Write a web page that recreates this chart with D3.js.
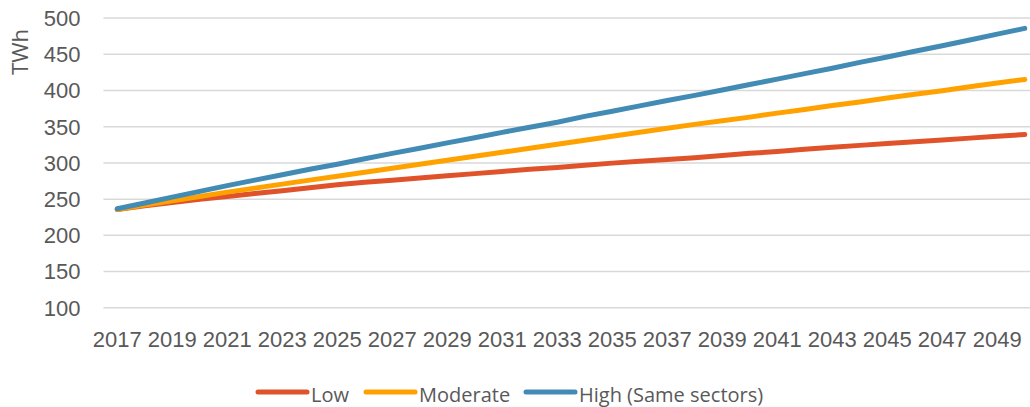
<!DOCTYPE html>
<html>
<head>
<meta charset="utf-8">
<script src="https://cdn.jsdelivr.net/npm/d3@7"></script>
<style>
  body { margin: 0; background: #fff; }
  svg { display: block; font-family: "Open Sans", sans-serif; }
  .axis text { fill: #595959; }
</style>
</head>
<body>
<div id="chart"></div>
<script>
var years = d3.range(2017, 2051)

var lowValues = [235, 240, 244.5, 249, 253, 257, 261, 265, 269, 272.5, 275.5, 278.5, 281.5, 284.5,
  287.5, 290.5, 293, 296, 299, 301.5, 304, 306.5, 309.5, 312.5, 315, 318, 321, 323.5, 326, 328.5,
  331, 333.5, 336, 338.5]

var moderateValues = [235, 241, 247, 253, 259, 264.5, 270, 275.5, 281, 286.5, 292, 297.5, 303, 308.5,
  314, 319.5, 325, 330.5, 336, 341.5, 347, 352.5, 357.5, 362.5, 368, 373, 378.5, 383.5, 389, 394,
  399, 404.5, 409.5, 414.5]

var highValues = [236, 244, 252, 260, 268, 275.5, 283, 290.5, 297.5, 305, 312.5, 319.5, 327, 334,
  341.5, 348.5, 355.5, 363.5, 370.5, 378, 385.5, 392.5, 400, 407.5, 415, 422.5, 430, 438, 445.5,
  453.5, 461, 469, 477, 485]

var seriesNames = ["Low", "Moderate", "High (Same sectors)"]
var seriesColors = ["#E0532A", "#FFA200", "#428BB5"]
var yTicks = [100, 150, 200, 250, 300, 350, 400, 450, 500]
var xTickYears = years.filter(function (d) { return d % 2 === 1 })

var series = [lowValues, moderateValues, highValues].map(function (vals, i) {
  return { name: seriesNames[i], color: seriesColors[i],
    values: vals.map(function (v, j) { return { year: years[j], value: v } }) }
})

var width = 1030, height = 407
var plotLeft = 103.5, plotTop = 17.5, plotBottom = 307.3

var svg = d3.select("#chart").append("svg")
  .attr("width", width)
  .attr("height", height)

var x = d3.scaleBand().domain(years).range([plotLeft, plotLeft + 34 * 27.5]).padding(0)
var y = d3.scaleLinear().domain([100, 500]).range([plotBottom, plotTop])

// gridlines + y labels
var yAxis = d3.axisLeft(y).tickValues(yTicks).tickSize(-(width - plotLeft)).tickPadding(23)
svg.append("g")
  .attr("class", "axis axis--y")
  .attr("transform", "translate(" + plotLeft + ",0)")
  .call(yAxis)
  .call(function (g) {
    g.select(".domain").remove()
    g.selectAll(".tick line").attr("stroke", "#D9D9D9").attr("stroke-width", 1.5)
    g.selectAll(".tick text").attr("font-size", 22).attr("dy", "0.36em")
  })

// x labels
var xAxis = d3.axisBottom(x).tickValues(xTickYears).tickSize(0).tickPadding(0)
svg.append("g")
  .attr("class", "axis axis--x")
  .attr("transform", "translate(0," + plotBottom + ")")
  .call(xAxis)
  .call(function (g) {
    g.select(".domain").remove()
    g.selectAll(".tick text").attr("font-size", 22).attr("dy", null).attr("y", 39.5)
  })

// y title
svg.append("text")
  .attr("transform", "translate(28,52) rotate(-90)")
  .attr("text-anchor", "middle")
  .attr("font-size", 22)
  .attr("fill", "#595959")
  .text("TWh")

var line = d3.line()
  .x(function (d) { return x(d.year) + x.bandwidth() / 2 })
  .y(function (d) { return y(d.value) })

svg.append("g").selectAll("path")
  .data(series)
  .enter().append("path")
  .attr("d", function (d) { return line(d.values) })
  .attr("fill", "none")
  .attr("stroke", function (d) { return d.color })
  .attr("stroke-width", 5)
  .attr("stroke-linecap", "round")
  .attr("stroke-linejoin", "round")

// legend
var legendX = [258, 366, 526]
var items = svg.append("g").selectAll("g")
  .data(series)
  .enter().append("g")
  .attr("transform", function (d, i) { return "translate(" + legendX[i] + ",392)" })

items.append("line")
  .attr("x1", 0).attr("x2", 49)
  .attr("stroke", function (d) { return d.color })
  .attr("stroke-width", 5)
  .attr("stroke-linecap", "round")

items.append("text")
  .attr("x", 53)
  .attr("y", 9.5)
  .attr("font-size", 20)
  .attr("fill", "#595959")
  .text(function (d) { return d.name })
</script>
</body>
</html>
